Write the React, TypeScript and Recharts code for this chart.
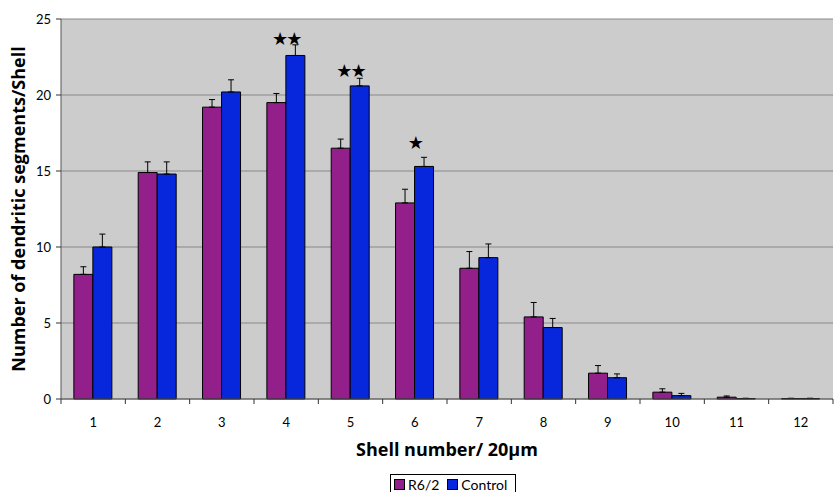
import {
  ComposedChart,
  Bar,
  Scatter,
  XAxis,
  YAxis,
  CartesianGrid,
  ErrorBar,
  Legend,
} from "recharts";

const shells = ["1", "2", "3", "4", "5", "6", "7", "8", "9", "10", "11", "12"];
const r62 = [8.2, 14.9, 19.2, 19.5, 16.5, 12.9, 8.6, 5.4, 1.7, 0.45, 0.12, 0.03];
const r62Err = [0.5, 0.7, 0.5, 0.6, 0.6, 0.9, 1.1, 0.95, 0.5, 0.22, 0.08, 0.02];
const control = [10.0, 14.8, 20.2, 22.6, 20.6, 15.3, 9.3, 4.7, 1.4, 0.22, 0.03, 0.03];
const controlErr = [0.85, 0.8, 0.8, 0.7, 0.5, 0.6, 0.9, 0.6, 0.25, 0.15, 0.02, 0.02];
const stars = ["", "", "", "★★", "★★", "★", "", "", "", "", "", ""];
const starLevel = [null, null, null, 23.75, 21.6, 16.9, null, null, null, null, null, null];
const yTicks = [0, 5, 10, 15, 20, 25];

const PURPLE = "#931F8B";
const BLUE = "#0727DD";
const FONT = "Lato, 'DejaVu Sans', sans-serif";
const TITLE_FONT = "'Open Sans', 'DejaVu Sans', sans-serif";

const W = 834;
const H = 492;
const PLOT_LEFT = 61;
const PLOT_RIGHT = 833;
const PLOT_BOTTOM = 399;
const BAND = (PLOT_RIGHT - PLOT_LEFT) / shells.length;

const data = shells.map((s, i) => ({
  shell: s,
  r62: r62[i],
  r62Range: [0, r62Err[i]],
  control: control[i],
  controlRange: [0, controlErr[i]],
  star: stars[i],
  starLevel: starLevel[i],
}));

function ShellTick(props: any) {
  const { x, payload, index } = props;
  const left = x - BAND / 2;
  return (
    <g>
      <line x1={left} x2={left} y1={PLOT_BOTTOM} y2={PLOT_BOTTOM + 5} stroke="#333" />
      {index === shells.length - 1 && (
        <line x1={x + BAND / 2} x2={x + BAND / 2} y1={PLOT_BOTTOM} y2={PLOT_BOTTOM + 5} stroke="#333" />
      )}
      <text x={x} y={PLOT_BOTTOM + 28} textAnchor="middle" fontSize={13} fill="#000" fontFamily={FONT}>
        {payload.value}
      </text>
    </g>
  );
}

function StarMark(props: any) {
  const { cx, cy, payload } = props;
  if (!payload.star) return <g />;
  return (
    <text
      x={cx}
      y={cy}
      textAnchor="middle"
      dominantBaseline="central"
      fontSize={18}
      letterSpacing={-2}
      fill="#000"
      fontFamily="'DejaVu Sans', sans-serif"
    >
      {payload.star}
    </text>
  );
}

function Swatch({ color }: { color: string }) {
  return (
    <span
      style={{
        display: "inline-block",
        width: 9,
        height: 9,
        background: color,
        border: "1px solid #000",
        marginRight: 3,
        verticalAlign: "middle",
      }}
    />
  );
}

function LegendBox() {
  return (
    <div
      style={{
        border: "1px solid #000",
        padding: "0 4px 0 3px",
        fontSize: 14,
        lineHeight: "15px",
        fontFamily: FONT,
        background: "#fff",
        whiteSpace: "nowrap",
      }}
    >
      <Swatch color={PURPLE} />
      <span style={{ verticalAlign: "middle" }}>R6/2</span>
      <span style={{ display: "inline-block", width: 8 }} />
      <Swatch color={BLUE} />
      <span style={{ verticalAlign: "middle" }}>Control</span>
    </div>
  );
}

export default function App() {
  return (
    <div style={{ width: W, height: H, fontFamily: FONT, background: "#fff", overflow: "hidden" }}>
      <style>{`body{margin:0}`}</style>
      <ComposedChart
        width={W}
        height={H}
        data={data}
        margin={{ top: 19, right: W - PLOT_RIGHT, bottom: 0, left: 0 }}
        barCategoryGap="20%"
        barGap={0}
      >
        <CartesianGrid vertical={false} stroke="#888" fill="#CCCCCC" />
        <XAxis
          dataKey="shell"
          height={70}
          tickLine={false}
          axisLine={{ stroke: "#555" }}
          tick={<ShellTick />}
          interval={0}
          label={{
            value: "Shell number/ 20μm",
            position: "insideBottom",
            offset: 13,
            style: { fontSize: 18, fontWeight: 700, fill: "#000", fontFamily: TITLE_FONT },
          }}
        />
        <YAxis
          width={PLOT_LEFT}
          domain={[0, 25]}
          ticks={yTicks}
          tickSize={5}
          tickMargin={5}
          axisLine={{ stroke: "#555" }}
          tickLine={{ stroke: "#333" }}
          tick={{ fontSize: 13, fill: "#000", fontFamily: FONT }}
          label={{
            content: () => (
              <text
                x={18}
                y={209}
                transform="rotate(-90 18 209)"
                textAnchor="middle"
                dominantBaseline="central"
                fontSize={18}
                fontWeight={700}
                fill="#000"
                fontFamily={TITLE_FONT}
              >
                Number of dendritic segments/Shell
              </text>
            ),
          }}
        />
        <Legend
          verticalAlign="bottom"
          height={23}
          content={<LegendBox />}
          wrapperStyle={{ left: 390, top: 474, bottom: "auto", width: 126 }}
        />
        <Bar dataKey="r62" name="R6/2" fill={PURPLE} stroke="#000" strokeWidth={1} isAnimationActive={false}>
          <ErrorBar dataKey="r62Range" direction="y" width={3} stroke="#000" strokeWidth={1} />
        </Bar>
        <Bar dataKey="control" name="Control" fill={BLUE} stroke="#000" strokeWidth={1} isAnimationActive={false}>
          <ErrorBar dataKey="controlRange" direction="y" width={3} stroke="#000" strokeWidth={1} />
        </Bar>
        <Scatter dataKey="starLevel" shape={<StarMark />} isAnimationActive={false} legendType="none" />
      </ComposedChart>
    </div>
  );
}
